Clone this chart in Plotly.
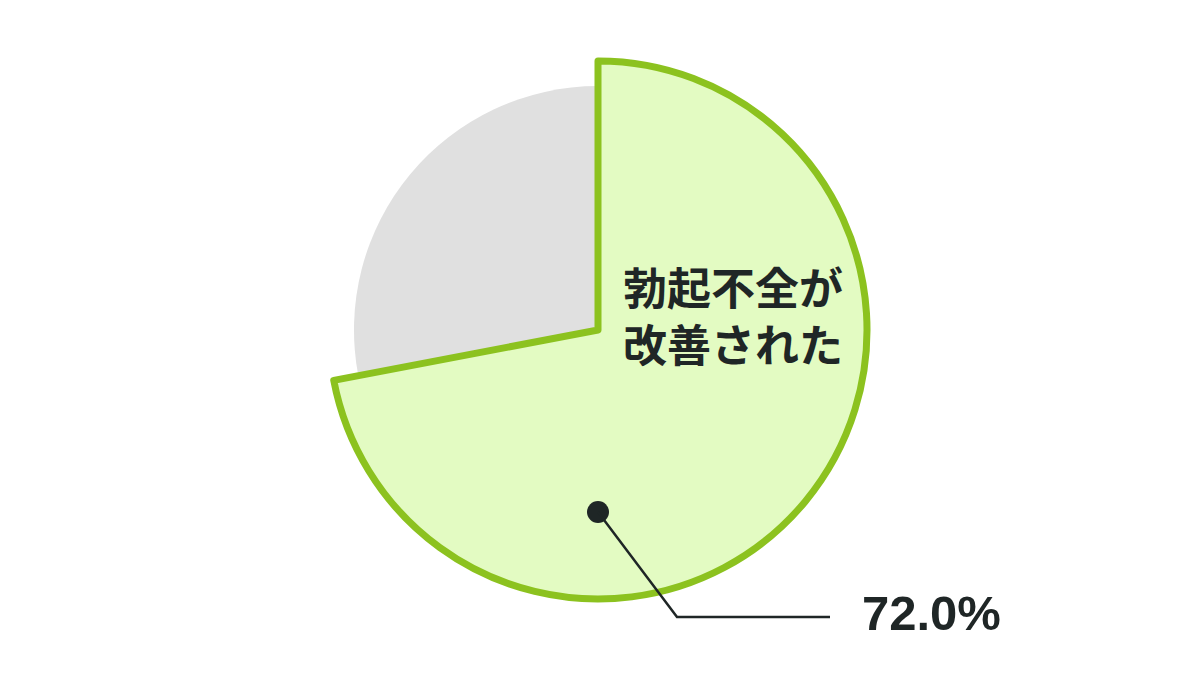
import plotly.graph_objects as go

# データ
labels = ["勃起不全が改善された", "その他"]
values = [72.0, 28.0]
label_lines = ["勃起不全が", "改善された"]
value_text = "72.0%"

W, H = 1200, 675
OFF = 8  # ページ余白のずれ

# ピクセル -> paper座標
def px(x):
    return (x - OFF) / W

def py(y):
    return 1 - (y - OFF) / H

green_line = "#8cc21f"
green_fill = "#e3fbc2"
gray_fill = "#e0e0e0"
dark = "#1f2626"

cx, cy = 598, 330      # 円の中心(px)
r_big, r_small = 269, 244

def dom(r):
    return dict(x=[px(cx - 1.4 * r), px(cx + 1.4 * r)],
                y=[py(cy + r), py(cy - r)])

fig = go.Figure()

# 小さい円(グレー部分)
fig.add_trace(go.Pie(
    labels=labels, values=values, sort=False, direction="clockwise", rotation=0,
    marker=dict(colors=["rgba(0,0,0,0)", gray_fill], line=dict(width=0)),
    textinfo="none", hoverinfo="label+value", domain=dom(r_small), showlegend=False,
))

# 大きい円(緑部分)
fig.add_trace(go.Pie(
    labels=labels, values=values, sort=False, direction="clockwise", rotation=0,
    marker=dict(colors=[green_fill, "rgba(0,0,0,0)"],
                line=dict(color=[green_line, "rgba(0,0,0,0)"], width=[7, 0])),
    textinfo="none", hoverinfo="label+value", domain=dom(r_big), showlegend=False,
))

# 引き出し線
dot_x, dot_y, dot_r = 598, 512, 11
fig.add_shape(type="circle", xref="paper", yref="paper",
              x0=px(dot_x - dot_r), x1=px(dot_x + dot_r),
              y0=py(dot_y + dot_r), y1=py(dot_y - dot_r),
              fillcolor=dark, line=dict(width=0))
fig.add_shape(type="path", xref="paper", yref="paper",
              path=f"M {px(dot_x)} {py(dot_y)} L {px(677)} {py(617)} L {px(830)} {py(617)}",
              line=dict(color=dark, width=2.5))

# ラベル
fig.add_annotation(x=px(733), y=py(314), xref="paper", yref="paper",
                   text="<br>".join(label_lines), showarrow=False,
                   xanchor="center", yanchor="middle", align="center",
                   font=dict(family="Noto Sans CJK JP", size=44, color=dark, weight="bold"))

fig.add_annotation(x=px(931), y=py(613), xref="paper", yref="paper",
                   text=value_text, showarrow=False, xanchor="center", yanchor="middle",
                   font=dict(family="Liberation Sans", size=49, color=dark, weight="bold"))

fig.update_layout(
    width=W, height=H,
    margin=dict(l=0, r=0, t=0, b=0),
    paper_bgcolor="white", plot_bgcolor="white",
)

fig.write_html("out.html")
